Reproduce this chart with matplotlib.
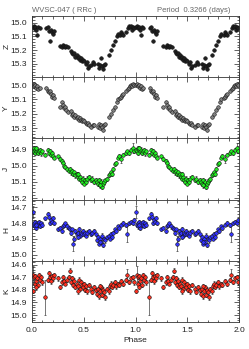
import numpy as np
import matplotlib
matplotlib.use("Agg")
import matplotlib.pyplot as plt
from matplotlib.ticker import MultipleLocator

plt.rcParams["font.family"] = ["Liberation Sans", "DejaVu Sans"]

# Optical phases (Z, Y)
phase_opt = [
    0.005, 0.015, 0.02, 0.03, 0.04, 0.05, 0.06, 0.075, 0.14, 0.15,
    0.16, 0.17, 0.18, 0.19, 0.20, 0.21, 0.27, 0.29, 0.30, 0.31,
    0.32, 0.33, 0.35, 0.38, 0.39, 0.40, 0.41, 0.42, 0.43, 0.44,
    0.45, 0.46, 0.47, 0.48, 0.49, 0.50, 0.52, 0.53, 0.54, 0.55,
    0.57, 0.59, 0.60, 0.64, 0.65, 0.66, 0.67, 0.68, 0.69, 0.70,
    0.71, 0.74, 0.76, 0.78, 0.80, 0.82, 0.83, 0.85, 0.86, 0.87,
    0.88, 0.91, 0.93, 0.94, 0.95, 0.96, 0.97, 0.98, 0.99,
]
z_mag = [
    15.03, 15.02, 15.04, 15.03, 15.05, 15.09, 15.03, 15.04, 15.04, 15.03,
    15.06, 15.13, 15.05, 15.07, 15.08, 15.06, 15.17, 15.18, 15.16, 15.17,
    15.18, 15.17, 15.18, 15.21, 15.22, 15.23, 15.22, 15.25, 15.24, 15.26,
    15.25, 15.27, 15.26, 15.28, 15.27, 15.28, 15.30, 15.29, 15.33, 15.32,
    15.31, 15.29, 15.30, 15.30, 15.33, 15.31, 15.26, 15.32, 15.34, 15.31,
    15.30, 15.24, 15.20, 15.16, 15.13, 15.10, 15.08, 15.09, 15.07, 15.08,
    15.09, 15.07, 15.04, 15.02, 15.03, 15.02, 15.05, 15.03, 15.04,
]
y_mag = [
    15.00, 14.99, 15.01, 15.00, 15.02, 15.01, 15.03, 15.02, 15.02, 15.04,
    15.05, 15.04, 15.06, 15.08, 15.07, 15.09, 15.15, 15.12, 15.14, 15.16,
    15.15, 15.17, 15.19, 15.18, 15.21, 15.20, 15.22, 15.21, 15.23, 15.22,
    15.24, 15.23, 15.24, 15.25, 15.24, 15.25, 15.26, 15.27, 15.26, 15.28,
    15.29, 15.28, 15.28, 15.29, 15.27, 15.30, 15.28, 15.29, 15.31, 15.28,
    15.27, 15.22, 15.20, 15.17, 15.15, 15.12, 15.10, 15.09, 15.08, 15.07,
    15.06, 15.04, 15.03, 15.02, 15.01, 15.00, 15.01, 14.99, 15.00,
]

# Near-IR phases (J, H, K)
phase_nir = [
    0.005, 0.01, 0.02, 0.025, 0.03, 0.04, 0.05, 0.06, 0.07, 0.08,
    0.09, 0.10, 0.13, 0.15, 0.16, 0.17, 0.18, 0.19, 0.20, 0.21,
    0.25, 0.27, 0.29, 0.30, 0.31, 0.32, 0.34, 0.36, 0.37, 0.38,
    0.39, 0.40, 0.41, 0.42, 0.43, 0.44, 0.45, 0.46, 0.47, 0.48,
    0.49, 0.50, 0.51, 0.52, 0.53, 0.55, 0.57, 0.58, 0.60, 0.62,
    0.63, 0.64, 0.65, 0.66, 0.67, 0.68, 0.69, 0.70, 0.71, 0.72,
    0.74, 0.75, 0.76, 0.77, 0.78, 0.80, 0.81, 0.83, 0.84, 0.86,
    0.88, 0.91, 0.92, 0.94, 0.96, 0.98, 0.99, 0.035, 0.445, 0.655,
]
j_mag = [
    14.90, 14.91, 14.89, 14.92, 14.90, 14.91, 14.90, 14.92, 14.91, 14.90,
    14.92, 14.91, 14.93, 14.90, 14.92, 14.91, 14.93, 14.92, 14.94, 14.95,
    14.94, 14.96, 14.97, 14.98, 15.00, 15.01, 15.02, 15.03, 15.02, 15.04,
    15.03, 15.05, 15.04, 15.06, 15.05, 15.07, 15.08, 15.07, 15.09, 15.10,
    15.08, 15.11, 15.09, 15.10, 15.08, 15.07, 15.09, 15.08, 15.10, 15.09,
    15.10, 15.11, 15.09, 15.12, 15.10, 15.13, 15.11, 15.10, 15.09, 15.08,
    15.06, 15.05, 15.04, 15.05, 15.02, 14.99, 14.98, 14.95, 14.94, 14.96,
    14.93, 14.92, 14.91, 14.92, 14.90, 14.89, 14.91, 14.89, 15.05, 15.12,
]
j_err = [
    0.010, 0.015, 0.010, 0.010, 0.012, 0.010, 0.015, 0.010, 0.010, 0.012,
    0.020, 0.010, 0.012, 0.010, 0.010, 0.012, 0.010, 0.015, 0.010, 0.010,
    0.010, 0.012, 0.010, 0.010, 0.015, 0.010, 0.012, 0.010, 0.010, 0.015,
    0.010, 0.012, 0.010, 0.015, 0.010, 0.012, 0.010, 0.015, 0.010, 0.012,
    0.015, 0.010, 0.012, 0.010, 0.015, 0.010, 0.012, 0.015, 0.010, 0.012,
    0.010, 0.015, 0.012, 0.010, 0.015, 0.012, 0.010, 0.015, 0.010, 0.012,
    0.010, 0.012, 0.010, 0.015, 0.010, 0.012, 0.010, 0.010, 0.012, 0.025,
    0.010, 0.012, 0.010, 0.015, 0.010, 0.030, 0.012, 0.010, 0.012, 0.015,
]
h_mag = [
    14.73, 14.81, 14.80, 14.82, 14.79, 14.83, 14.80, 14.81, 14.79, 14.82,
    14.80, 14.81, 14.77, 14.74, 14.76, 14.80, 14.78, 14.79, 14.77, 14.80,
    14.84, 14.83, 14.85, 14.82, 14.81, 14.80, 14.82, 14.83, 14.84, 14.86,
    14.84, 14.93, 14.90, 14.85, 14.87, 14.86, 14.84, 14.88, 14.86, 14.87,
    14.85, 14.87, 14.86, 14.88, 14.86, 14.85, 14.87, 14.86, 14.85, 14.87,
    14.91, 14.89, 14.93, 14.90, 14.92, 14.88, 14.94, 14.90, 14.91, 14.89,
    14.88, 14.90, 14.87, 14.89, 14.86, 14.84, 14.85, 14.82, 14.83, 14.81,
    14.80, 14.81, 14.87, 14.80, 14.79, 14.80, 14.78, 14.81, 14.89, 14.92,
]
h_err = [
    0.040, 0.012, 0.010, 0.015, 0.010, 0.012, 0.010, 0.015, 0.010, 0.012,
    0.010, 0.015, 0.012, 0.010, 0.015, 0.010, 0.012, 0.010, 0.015, 0.010,
    0.012, 0.010, 0.015, 0.010, 0.012, 0.010, 0.015, 0.010, 0.012, 0.015,
    0.010, 0.050, 0.015, 0.010, 0.012, 0.010, 0.015, 0.010, 0.012, 0.010,
    0.015, 0.010, 0.012, 0.010, 0.015, 0.010, 0.012, 0.010, 0.015, 0.010,
    0.012, 0.015, 0.010, 0.012, 0.010, 0.015, 0.012, 0.010, 0.015, 0.010,
    0.012, 0.010, 0.015, 0.010, 0.012, 0.010, 0.015, 0.010, 0.012, 0.010,
    0.015, 0.012, 0.050, 0.010, 0.012, 0.010, 0.015, 0.012, 0.010, 0.015,
]
k_mag = [
    14.81, 14.68, 14.70, 14.75, 14.69, 14.73, 14.71, 14.76, 14.68, 14.72,
    14.70, 14.74, 14.86, 14.72, 14.67, 14.70, 14.73, 14.69, 14.71, 14.68,
    14.71, 14.78, 14.74, 14.70, 14.73, 14.75, 14.72, 14.70, 14.65, 14.74,
    14.71, 14.76, 14.73, 14.78, 14.75, 14.77, 14.72, 14.79, 14.74, 14.76,
    14.78, 14.75, 14.80, 14.77, 14.81, 14.76, 14.79, 14.82, 14.78, 14.80,
    14.83, 14.79, 14.85, 14.81, 14.78, 14.84, 14.80, 14.82, 14.86, 14.79,
    14.81, 14.77, 14.75, 14.78, 14.76, 14.74, 14.77, 14.75, 14.76, 14.73,
    14.75, 14.72, 14.68, 14.74, 14.71, 14.70, 14.74, 14.78, 14.81, 14.77,
]
k_err = [
    0.015, 0.070, 0.015, 0.020, 0.015, 0.020, 0.015, 0.020, 0.015, 0.020,
    0.015, 0.020, 0.140, 0.015, 0.020, 0.015, 0.020, 0.015, 0.020, 0.015,
    0.020, 0.015, 0.020, 0.015, 0.020, 0.015, 0.020, 0.015, 0.020, 0.015,
    0.020, 0.015, 0.020, 0.015, 0.020, 0.015, 0.020, 0.015, 0.020, 0.015,
    0.020, 0.015, 0.020, 0.015, 0.020, 0.015, 0.020, 0.015, 0.020, 0.015,
    0.020, 0.015, 0.020, 0.015, 0.020, 0.015, 0.020, 0.015, 0.020, 0.015,
    0.020, 0.015, 0.020, 0.015, 0.020, 0.015, 0.020, 0.015, 0.020, 0.015,
    0.020, 0.015, 0.045, 0.015, 0.020, 0.015, 0.020, 0.015, 0.020, 0.015,
]

bands = [
    # label, phases, mags, errs, fill, ylim, yticks
    ("Z", phase_opt, z_mag, None, "#202020", (15.40, 14.95), [15.0, 15.1, 15.2, 15.3]),
    ("Y", phase_opt, y_mag, None, "#808080", (15.37, 14.946), [15.0, 15.1, 15.2, 15.3]),
    ("J", phase_nir, j_mag, j_err, "#22ee22", (15.21, 14.83), [14.9, 15.0, 15.1, 15.2]),
    ("H", phase_nir, h_mag, h_err, "#3333ff", (15.04, 14.65), [14.7, 14.8, 14.9, 15.0]),
    ("K", phase_nir, k_mag, k_err, "#ff3020", (15.055, 14.57), [14.6, 14.7, 14.8, 14.9, 15.0]),
]

fig, axes = plt.subplots(5, 1, figsize=(2.49, 3.49), dpi=100, sharex=True)
fig.subplots_adjust(left=0.1285, right=0.96, top=0.954, bottom=0.0774, hspace=0)

for ax, (lab, ph, mag, err, col, ylim, yt) in zip(axes, bands):
    ph = np.array(ph)
    mag = np.array(mag)
    for shift in (0.0, 1.0):
        if err is not None:
            ax.errorbar(ph + shift, mag, yerr=err, fmt="none", ecolor="#404040",
                        elinewidth=0.5, capsize=0.8, capthick=0.5, zorder=1)
        ax.plot(ph + shift, mag, "o", ms=2.6, mfc=col, mec="#111111", mew=0.4,
                zorder=2)
    ax.set_xlim(0, 2)
    ax.set_ylim(*ylim)
    ax.set_yticks(yt)
    ax.set_yticklabels([f"{v:.1f}" for v in yt])
    ax.yaxis.set_minor_locator(MultipleLocator(0.02))
    ax.xaxis.set_major_locator(MultipleLocator(0.5))
    ax.xaxis.set_minor_locator(MultipleLocator(0.1))
    ax.tick_params(which="both", direction="in", top=True, right=True,
                   labelsize=6, width=0.5, colors="#222222")
    ax.tick_params(which="major", length=3.5)
    ax.tick_params(which="minor", length=1.8)
    for s in ax.spines.values():
        s.set_linewidth(0.6)
        s.set_color("#333333")
    ax.set_ylabel(lab, fontsize=6, rotation=90, labelpad=5, color="#222222")
    ax.yaxis.set_label_coords(-0.105, 0.5)

axes[-1].set_xlabel("Phase", fontsize=6, labelpad=2, color="#222222")
axes[-1].set_xticklabels(["", "0.0", "0.5", "1.0", "1.5", "2.0"])
axes[-1].set_xticks([0.0, 0.5, 1.0, 1.5, 2.0])
axes[-1].set_xticklabels(["0.0", "0.5", "1.0", "1.5", "2.0"])

axes[0].text(0.0, 1.03, "WVSC-047 ( RRc )", transform=axes[0].transAxes,
             fontsize=5.5, color="#666666", ha="left", va="bottom")
axes[0].text(0.96, 1.03, "Period  0.3266 (days)", transform=axes[0].transAxes,
             fontsize=5.5, color="#666666", ha="right", va="bottom")

fig.savefig("out.png", dpi=100)
